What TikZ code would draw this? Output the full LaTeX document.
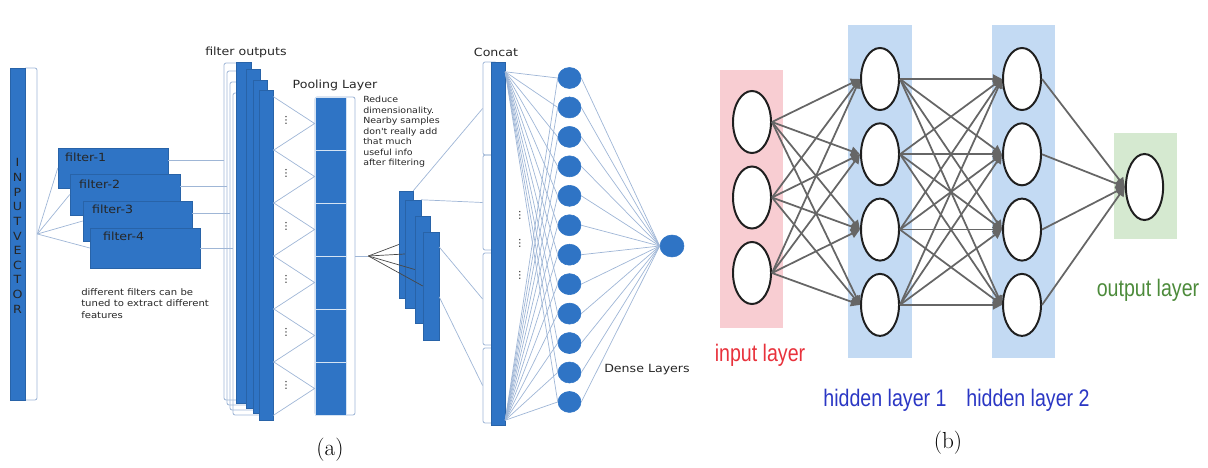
\documentclass[tikz,border=0pt]{standalone}
\usepackage{fontspec}
\newfontfamily\sketchfont[FakeStretch=1.12]{DejaVu Sans}
\newfontfamily\labelfont[FakeStretch=0.82]{Liberation Sans}
\usepackage{tikz}
\usetikzlibrary{shapes.geometric, arrows.meta, positioning, fit, calc}
\definecolor{ConvBlue}{HTML}{2F74C5}
\definecolor{ConvEdge}{HTML}{2863A8}
\definecolor{WireBlue}{HTML}{9FB6D6}
\definecolor{InkGray}{HTML}{262626}
\definecolor{ArrowGray}{HTML}{666666}
\definecolor{InPink}{HTML}{F8CDD2}
\definecolor{HidBlue}{HTML}{C3DAF3}
\definecolor{OutGreen}{HTML}{D5E9D0}
\definecolor{InRed}{HTML}{E8323C}
\definecolor{HidText}{HTML}{2B37C4}
\definecolor{OutText}{HTML}{4D8B3B}
\tikzset{
  convbar/.style={rectangle, draw=ConvEdge, fill=ConvBlue, line width=0.3pt, inner sep=0pt},
  poolblock/.style={rectangle, draw=white!80!ConvBlue, fill=ConvBlue, line width=0.6pt, inner sep=0pt},
  wirebox/.style={rectangle, rounded corners=1.5pt, draw=WireBlue, line width=0.55pt, inner sep=0pt},
  wire/.style={draw=WireBlue, line width=0.5pt},
  darkwire/.style={draw=InkGray!85, line width=0.5pt},
  sketchtext/.style={font=\sketchfont\fontsize{8}{9.5}\selectfont, text=InkGray, inner sep=0pt},
  dotmark/.style={font=\sketchfont\fontsize{7}{7}\selectfont, text=InkGray, inner sep=0pt},
  densenode/.style={ellipse, draw=ConvBlue, fill=ConvBlue, minimum width=0.575cm, minimum height=0.525cm, inner sep=0pt},
  layerbg/.style={rectangle, draw=none, inner sep=0pt},
  neuron/.style={ellipse, draw=black!88, fill=white, line width=1.4pt, minimum width=0.95cm, minimum height=1.55cm, inner sep=0pt},
  netarrow/.style={-{Triangle[length=6.5pt,width=6.5pt]}, ArrowGray, line width=1.25pt},
  layerlabel/.style={font=\labelfont\fontsize{17}{18}\selectfont, inner sep=0pt},
  caption/.style={font=\fontsize{16.5}{18}\selectfont, inner sep=0pt}
}
\begin{document}
\begin{tikzpicture}[x=0.025cm, y=-0.025cm]
  \useasboundingbox (0,0) rectangle (1208,467);
  % (a) input vector and filters
  \node[wirebox, fit={(24,68) (37,400)}] (inbr) {};
  \node[convbar, fit={(10,68) (25,400)}] (invec) {};
  \node[sketchtext, align=center, font=\sketchfont\fontsize{8}{10.4}\selectfont] (invtxt) at (17.5,236) {I\\N\\P\\U\\T\\V\\E\\C\\T\\O\\R};
  \node[convbar, fit={(58,148) (168,188)}] (f1) {};
  \node[sketchtext, anchor=west] (f1lab) at ($(f1.north west)+(7,10)$) {filter-1};
  \node[convbar, fit={(70,174) (180,215)}] (f2) {};
  \node[sketchtext, anchor=west] (f2lab) at ($(f2.north west)+(9,11)$) {filter-2};
  \node[convbar, fit={(83,201) (192,241)}] (f3) {};
  \node[sketchtext, anchor=west] (f3lab) at ($(f3.north west)+(9,9)$) {filter-3};
  \node[convbar, fit={(90,228) (200,268)}] (f4) {};
  \node[sketchtext, anchor=west] (f4lab) at ($(f4.north west)+(13,9)$) {filter-4};
  \draw[wire] (inbr.east) -- (f1.west);
  \draw[wire] (inbr.east) -- (f2.west);
  \draw[wire] (inbr.east) -- (f3.west);
  \draw[wire] (inbr.east) -- (f4.west);
  \node[sketchtext, anchor=north west, align=left, font=\sketchfont\fontsize{6.4}{8.3}\selectfont] (ftxt) at (81,288) {different filters can be\\tuned to extract different\\features};

  % filter outputs
  \node[sketchtext] (fouttxt) at (246,52) {filter outputs};
  \node[wirebox, fit={(224,63) (251,400)}] (ob1) {};
  \node[wirebox, fit={(227,71) (260,405)}] (ob2) {};
  \node[wirebox, fit={(230,82) (267,410)}] (ob3) {};
  \node[wirebox, fit={(233,93) (273,415)}] (ob4) {};
  \draw[wire] (f1.8) -- (ob1.west |- f1.8);
  \draw[wire] (f2.8) -- (ob2.west |- f2.8);
  \draw[wire] (f3.8) -- (ob3.west |- f3.8);
  \draw[wire] (f4.east) -- (ob4.west |- f4.east);
  \node[convbar, fit={(236,62) (251,403)}] (fo1) {};
  \node[convbar, fit={(246,69) (260,408)}] (fo2) {};
  \node[convbar, fit={(253,80) (267,413)}] (fo3) {};
  \node[convbar, fit={(259,90) (273,420)}] (fo4) {};

  % pooling
  \node[sketchtext] (pooltxt) at (335,85) {Pooling Layer};
  \node[wirebox, fit={(315,97) (355,415)}] (pbr) {};
  \foreach \k in {1,...,6}{
    \node[poolblock, fit={(315,{97+53*(\k-1)}) (346,{97+53*\k})}] (p\k) {};
    \draw[wire] (fo4.east |- p\k.north west) -- (p\k.west) -- (fo4.east |- p\k.south west);
    \node[dotmark] (pd\k) at ($(fo4.east |- p\k.west)+(13,-3)$) {⋮};
  }
  \node[sketchtext, anchor=north west, align=left, font=\sketchfont\fontsize{6}{7.5}\selectfont] (reducetxt) at (363,96) {Reduce\\dimensionality.\\Nearby samples\\don't really add\\that much\\useful info\\after filtering};

  % second filter stack
  \node[convbar, fit={(399,191) (413,298)}] (c1) {};
  \node[convbar, fit={(405,200) (421,308)}] (c2) {};
  \node[convbar, fit={(415,216) (430,323)}] (c3) {};
  \node[convbar, fit={(423,232) (439,340)}] (c4) {};
  \coordinate (pfan) at ($(pbr.east)+(13,0)$);
  \draw[wire] (pbr.east) -- (pfan);
  \draw[darkwire] (pfan) -- (c1.west);
  \draw[darkwire] (pfan) -- (c2.west);
  \draw[darkwire] (pfan) -- (c3.west);
  \draw[darkwire] (pfan) -- (c4.west);

  % concat
  \node[sketchtext] (concattxt) at (496,52) {Concat};
  \node[wirebox, fit={(483,62) (497,155)}] (cb1) {};
  \node[wirebox, fit={(483,155) (497,250)}] (cb2) {};
  \node[wirebox, fit={(483,253) (497,345)}] (cb3) {};
  \node[wirebox, fit={(483,348) (497,423)}] (cb4) {};
  \draw[wire] (c1.north east) -- (cb1.west);
  \draw[wire] (c2.north east) -- (cb2.west);
  \draw[wire] ($(c4.north east)!0.14!(c4.south east)$) -- (cb3.west);
  \draw[wire] ($(c4.north east)!0.6!(c4.south east)$) -- (cb4.west);
  \node[convbar, fit={(491,62) (505,425)}] (cc) {};
  \foreach \k/\yy in {1/215, 2/243, 3/275}
    \node[dotmark] (cd\k) at (520,\yy) {⋮};

  % dense layers
  \coordinate (ctop) at ($(cc.north east)+(0,10)$);
  \coordinate (cbot) at ($(cc.south east)+(0,-5)$);
  \node[densenode, minimum width=0.6cm, minimum height=0.55cm] (dout) at (672,246) {};
  \foreach \k in {1,...,12}{
    \node[densenode] (d\k) at (569.5,{78+29.45*(\k-1)}) {};
    \draw[wire] (ctop) -- (d\k.west);
    \draw[wire] (cbot) -- (d\k.west);
    \draw[wire] (d\k.east) -- (dout.west);
  }
  \node[sketchtext] (densetxt) at (647,370) {Dense Layers};
  \node[caption] (capa) at (330,450) {(a)};

  % (b) fully connected network
  \node[layerbg, fill=InPink, fit={(720,70) (783,328)}] (inbg) {};
  \node[layerbg, fill=HidBlue, fit={(848,25) (912,358)}] (h1bg) {};
  \node[layerbg, fill=HidBlue, fit={(992,25) (1055,358)}] (h2bg) {};
  \node[layerbg, fill=OutGreen, fit={(1114,133) (1177,239)}] (outbg) {};
  \foreach \k in {1,2,3}
    \node[neuron] (i\k) at (752,{122+75.5*(\k-1)}) {};
  \foreach \k in {1,...,4}{
    \node[neuron] (h\k) at (880,{79+75.3*(\k-1)}) {};
    \node[neuron] (g\k) at (1022,{79+75.3*(\k-1)}) {};
  }
  \node[neuron, minimum width=0.93cm, minimum height=1.65cm] (onode) at (1144.5,187) {};
  \foreach \a in {1,2,3}
    \foreach \b in {1,...,4}
      \draw[netarrow] (i\a.east) -- (h\b.west);
  \foreach \a in {1,...,4}
    \foreach \b in {1,...,4}
      \draw[netarrow] (h\a.east) -- (g\b.west);
  \foreach \a in {1,...,4}
    \draw[netarrow] (g\a.east) -- (onode.west);
  \node[layerlabel, text=InRed] (inlab) at (760,355) {input layer};
  \node[layerlabel, text=HidText] (h1lab) at (885,400) {hidden layer 1};
  \node[layerlabel, text=HidText] (h2lab) at (1028,400) {hidden layer 2};
  \node[layerlabel, text=OutText] (outlab) at (1148,290) {output layer};
  \node[caption] (capb) at (948,443) {(b)};
\end{tikzpicture}
\end{document}
